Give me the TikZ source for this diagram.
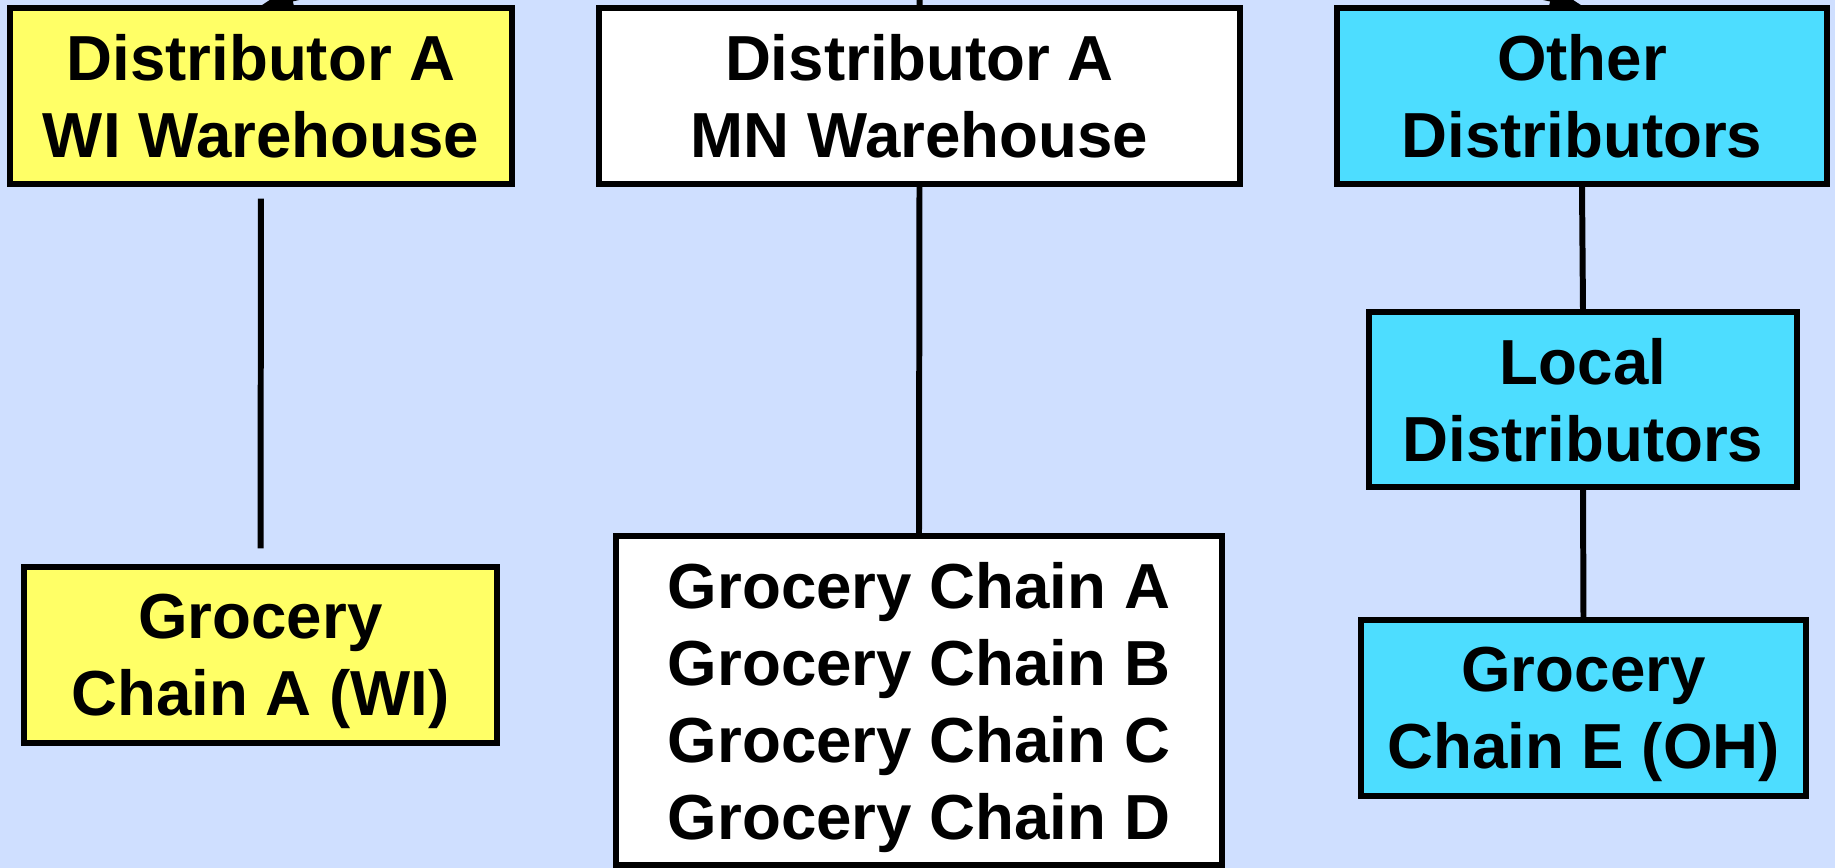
\documentclass[tikz,border=0pt]{standalone}
\usepackage{fontspec}
\setmainfont{Liberation Sans}
\usetikzlibrary{arrows.meta}
\definecolor{bgblue}{RGB}{207,223,255}
\definecolor{boxyellow}{RGB}{255,255,102}
\definecolor{boxcyan}{RGB}{77,221,255}
\tikzset{
  orgbox/.style={draw=black, line width=1.7pt, align=center, inner sep=0pt, text depth=0pt,
    font=\fontsize{18.1}{21.9}\selectfont\bfseries, text=black},
  link/.style={draw=black, line width=1.7pt},
  feed/.style={draw=black, line width=1.7pt, -{Triangle[length=0.32cm,width=0.22cm]}}
}
\begin{document}
\begin{tikzpicture}[x=0.01cm, y=-0.01cm]
\fill[bgblue] (0,0) rectangle (1835,868);
\useasboundingbox (0,0) rectangle (1835,868);
\clip (0,0) rectangle (1835,868);

\node[orgbox, fill=boxyellow, minimum width=5.01cm, minimum height=1.75cm] (wi) at (261,96) {Distributor A\\WI Warehouse};
\node[orgbox, fill=white, minimum width=6.40cm, minimum height=1.75cm] (mn) at (919.5,96) {Distributor A\\MN Warehouse};
\node[orgbox, fill=boxcyan, minimum width=4.89cm, minimum height=1.75cm] (other) at (1582,96) {Other\\Distributors};

\node[orgbox, fill=boxyellow, minimum width=4.72cm, minimum height=1.75cm] (gwi) at (260.5,655) {Grocery\\Chain A (WI)};
\node[orgbox, fill=white, minimum width=6.05cm, minimum height=3.28cm] (gmn) at (919,700.5) {Grocery Chain A\\Grocery Chain B\\Grocery Chain C\\Grocery Chain D};
\node[orgbox, fill=boxcyan, minimum width=4.27cm, minimum height=1.74cm] (local) at (1583,399.5) {Local\\Distributors};
\node[orgbox, fill=boxcyan, minimum width=4.44cm, minimum height=1.75cm] (ge) at (1583.5,708) {Grocery\\Chain E (OH)};

\draw[link, shorten <=0.12cm, shorten >=0.16cm] (wi.south) -- (gwi.north);
\draw[link] (mn.south) -- (gmn.north);
\draw[link] (other.south) -- (local.north);
\draw[link] (local.south) -- (ge.north);

\coordinate (inwi) at (420,-30);
\coordinate (inmn) at (920,-30);
\coordinate (inother) at (1420,-30);
\draw[feed] (inwi) -- (wi.north);
\draw[link] (inmn) -- (mn.north);
\draw[feed] (inother) -- (other.north);
\end{tikzpicture}
\end{document}
